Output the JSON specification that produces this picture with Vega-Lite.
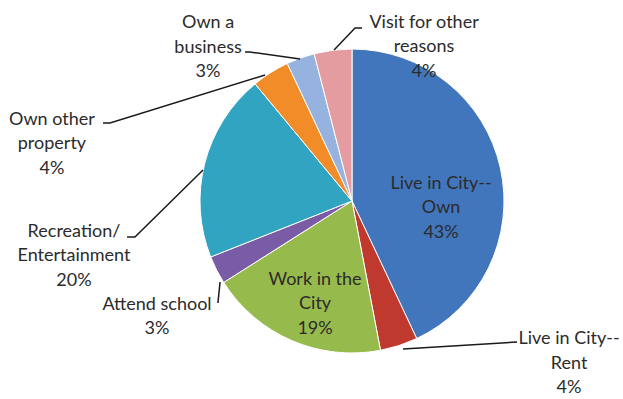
{
  "$schema": "https://vega.github.io/schema/vega-lite/v6.json",
  "width": 623,
  "height": 399,
  "padding": 0,
  "autosize": {"type": "none"},
  "background": "white",
  "config": {"view": {"stroke": null}},
  "datasets": {
    "slices": [
      {"rank": 1, "category": "Live in City--Own", "value": 43},
      {"rank": 2, "category": "Live in City--Rent", "value": 4},
      {"rank": 3, "category": "Work in the City", "value": 19},
      {"rank": 4, "category": "Attend school", "value": 3},
      {"rank": 5, "category": "Recreation/Entertainment", "value": 20},
      {"rank": 6, "category": "Own other property", "value": 4},
      {"rank": 7, "category": "Own a business", "value": 3},
      {"rank": 8, "category": "Visit for other reasons", "value": 4}
    ],
    "labels": [
      {"text": "Live in City--\nOwn\n43%", "x": 58.6, "y": 11.5},
      {"text": "Work in the\nCity\n19%", "x": -24.3, "y": -51.7},
      {"text": "Live in City--\nRent\n4%", "x": 142.8, "y": -91.1},
      {"text": "Attend school\n3%", "x": -128.3, "y": -68.2},
      {"text": "Recreation/\nEntertainment\n20%", "x": -182.9, "y": -20.1},
      {"text": "Own other\nproperty\n4%", "x": -197.4, "y": 53.6},
      {"text": "Own a\nbusiness\n3%", "x": -94.7, "y": 116.8},
      {"text": "Visit for other\nreasons\n4%", "x": 47.4, "y": 117.4}
    ],
    "leaders": [
      {"label": "Visit", "step": 1, "x": -11.8, "y": 99.3},
      {"label": "Visit", "step": 2, "x": 2.0, "y": 113.8},
      {"label": "Visit", "step": 3, "x": 6.6, "y": 113.8},
      {"label": "Business", "step": 1, "x": -34.2, "y": 93.4},
      {"label": "Business", "step": 2, "x": -67.1, "y": 98.0},
      {"label": "Business", "step": 3, "x": -70.4, "y": 98.0},
      {"label": "Property", "step": 1, "x": -57.2, "y": 82.9},
      {"label": "Property", "step": 2, "x": -159.2, "y": 51.3},
      {"label": "Property", "step": 3, "x": -163.8, "y": 51.3},
      {"label": "Recreation", "step": 1, "x": -98.0, "y": 20.4},
      {"label": "Recreation", "step": 2, "x": -142.8, "y": -23.7},
      {"label": "Recreation", "step": 3, "x": -148.0, "y": -23.7},
      {"label": "School", "step": 1, "x": -86.8, "y": -53.3},
      {"label": "School", "step": 2, "x": -88.2, "y": -67.1},
      {"label": "Rent", "step": 1, "x": 33.6, "y": -97.4},
      {"label": "Rent", "step": 2, "x": 108.6, "y": -92.8}
    ]
  },
  "layer": [
    {
      "data": {"name": "slices"},
      "mark": {"type": "arc", "outerRadius": 152, "stroke": "white", "strokeWidth": 1},
      "encoding": {
        "x": {"datum": 0, "type": "quantitative", "scale": {"domain": [-231.58, 178.29]}, "axis": null},
        "y": {"datum": 0, "type": "quantitative", "scale": {"domain": [-130.26, 132.24]}, "axis": null},
        "theta": {"field": "value", "type": "quantitative", "stack": true},
        "order": {"field": "rank", "type": "quantitative"},
        "color": {
          "field": "category",
          "type": "nominal",
          "legend": null,
          "scale": {
            "domain": ["Live in City--Own", "Live in City--Rent", "Work in the City", "Attend school", "Recreation/Entertainment", "Own other property", "Own a business", "Visit for other reasons"],
            "range": ["#4276BC", "#C0392F", "#97BA4C", "#7A5BA6", "#31A4C2", "#F28C28", "#95B3DE", "#E49CA0"]
          }
        }
      }
    },
    {
      "data": {"name": "leaders"},
      "mark": {"type": "line", "color": "#1a1a1a", "strokeWidth": 1.5},
      "encoding": {
        "x": {"field": "x", "type": "quantitative", "scale": {"domain": [-231.58, 178.29]}, "axis": null},
        "y": {"field": "y", "type": "quantitative", "scale": {"domain": [-130.26, 132.24]}, "axis": null},
        "detail": {"field": "label"},
        "order": {"field": "step", "type": "quantitative"}
      }
    },
    {
      "data": {"name": "labels"},
      "mark": {"type": "text", "font": "Lato", "fontSize": 18, "color": "#2b2b2b", "lineBreak": "\n", "lineHeight": 24.5, "align": "center", "baseline": "middle"},
      "encoding": {
        "x": {"field": "x", "type": "quantitative", "scale": {"domain": [-231.58, 178.29]}, "axis": null},
        "y": {"field": "y", "type": "quantitative", "scale": {"domain": [-130.26, 132.24]}, "axis": null},
        "text": {"field": "text"}
      }
    }
  ]
}
